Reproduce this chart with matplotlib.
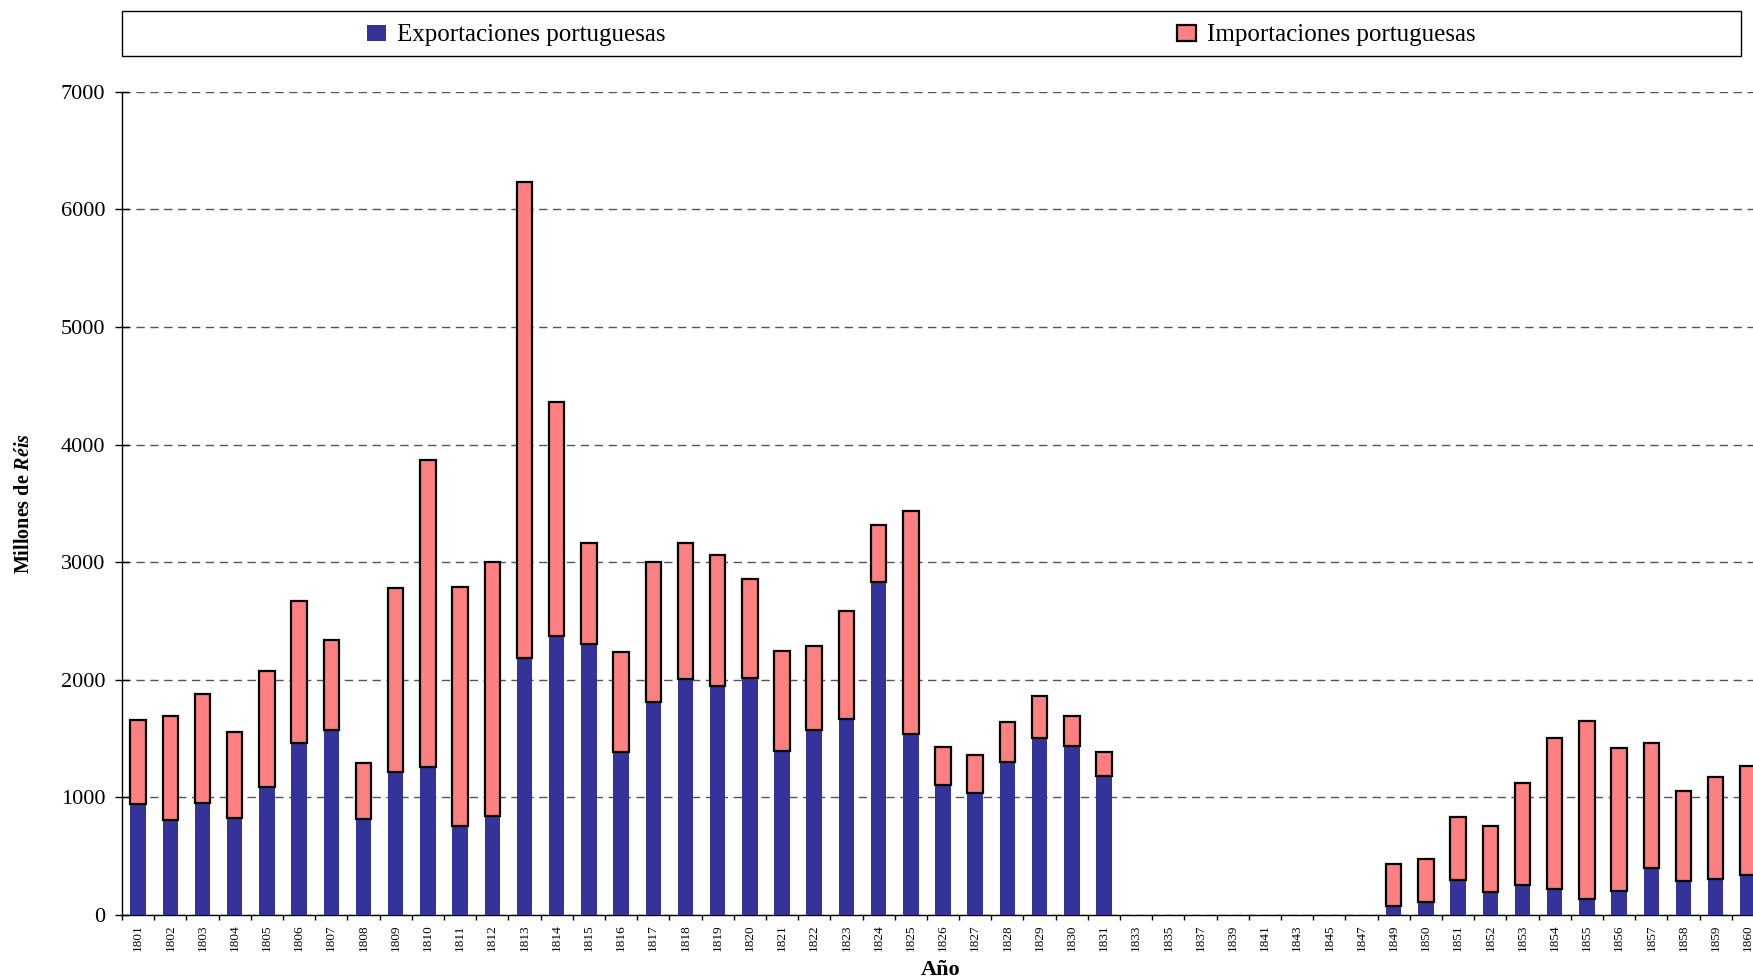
import numpy as np
import matplotlib
matplotlib.use("Agg")
import matplotlib.pyplot as plt
from matplotlib.patches import Patch, Rectangle

plt.rcParams['font.family'] = ['Liberation Serif', 'DejaVu Serif']
plt.rcParams['mathtext.fontset'] = 'custom'
plt.rcParams['mathtext.rm'] = 'Liberation Serif:bold'
plt.rcParams['mathtext.it'] = 'Liberation Serif:italic:bold'
plt.rcParams['mathtext.bf'] = 'Liberation Serif:bold'

years = ([str(y) for y in range(1801, 1832)]
         + [str(y) for y in range(1833, 1848, 2)]
         + [str(y) for y in range(1849, 1861)])

nan = np.nan
exports = [940, 804, 953, 826, 1092, 1461, 1575, 817, 1215, 1257,
           758, 842, 2189, 2371, 2303, 1389, 1807, 2007, 1950, 2016,
           1398, 1569, 1664, 2834, 1541, 1103, 1037, 1303, 1503, 1436,
           1179,
           nan, nan, nan, nan, nan, nan, nan, nan,
           80, 113, 297, 193, 252, 221, 133, 204, 397, 289, 306, 337]
totals = [1655, 1689, 1880, 1558, 2075, 2667, 2337, 1291, 2777, 3870,
          2790, 3002, 6228, 4365, 3163, 2235, 3005, 3167, 3063, 2853,
          2245, 2283, 2587, 3319, 3434, 1427, 1360, 1645, 1864, 1693,
          1389,
          nan, nan, nan, nan, nan, nan, nan, nan,
          431, 476, 833, 759, 1125, 1507, 1652, 1416, 1465, 1054, 1173, 1263]
imports = [t - e for t, e in zip(totals, exports)]

series_labels = ["Exportaciones portuguesas", "Importaciones portuguesas"]
c_exp = "#333399"
c_imp = "#FF8080"

W, H = 1753, 980
fig = plt.figure(figsize=(W / 100, H / 100), dpi=100)
n = len(years)
ax = fig.add_axes([122 / W, 1 - 915 / H, 1642 / W, (915 - 91.7) / H])

x = np.arange(n)
bw = 0.48
ax.bar(x, exports, width=bw, color=c_exp, linewidth=0, zorder=3)
ax.bar(x, imports, width=bw, bottom=exports, color=c_imp,
       edgecolor="black", linewidth=1.6, zorder=3)

ax.set_xlim(-0.5, n - 0.5)
ax.set_ylim(0, 7000)
ax.set_yticks(np.arange(0, 7001, 1000))
ax.yaxis.grid(True, linestyle=(0, (6, 4)), color="#555555", linewidth=1.0, zorder=0)
ax.set_axisbelow(True)

for s in ["top", "right"]:
    ax.spines[s].set_visible(False)
for s in ["left", "bottom"]:
    ax.spines[s].set_color("black")
    ax.spines[s].set_linewidth(1.0)

ax.tick_params(axis="y", direction="inout", length=10, width=1, pad=7,
               labelsize=16)
ax.set_xticks(x)
ax.set_xticklabels(years, rotation=90, fontsize=9.5)
ax.set_xticks(np.arange(-0.5, n, 1.0), minor=True)
ax.tick_params(axis="x", which="major", length=0, pad=7)
ax.tick_params(axis="x", which="minor", direction="out", length=3.5, width=1)

fig.text(941 / W, 1 - 970 / H, "Año", ha="center", va="center",
         fontsize=16, fontweight="bold")
fig.text(24 / W, 1 - 503 / H, r"Millones de $\mathit{Réis}$", rotation=90,
         ha="center", va="center", fontsize=14.5, fontweight="bold")

# legend frame
fig.add_artist(Rectangle((122 / W, 1 - 56 / H), (1741 - 122) / W, 45 / H,
                         transform=fig.transFigure, facecolor="white",
                         edgecolor="black", linewidth=1.0))
h1 = Patch(facecolor=c_exp, edgecolor=c_exp, linewidth=0)
h2 = Patch(facecolor=c_imp, edgecolor="black", linewidth=1.6)
for h, lab, xpos in [(h1, series_labels[0], 367), (h2, series_labels[1], 1177)]:
    lg = fig.legend([h], [lab], loc="center left",
                    bbox_to_anchor=(xpos / W, 1 - 35.5 / H), frameon=False,
                    fontsize=18, handlelength=0.75, handleheight=0.6,
                    handletextpad=0.45, borderpad=0, borderaxespad=0)

fig.savefig("out.png", dpi=100)
